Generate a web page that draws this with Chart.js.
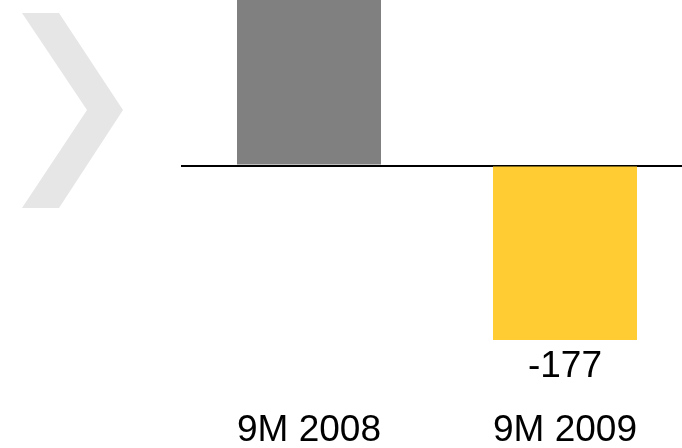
<!DOCTYPE html>
<html>
<head>
<meta charset="utf-8">
<script src="https://cdn.jsdelivr.net/npm/chart.js@4/dist/chart.umd.min.js"></script>
<style>
  html, body { margin: 0; padding: 0; background: #fff; overflow: hidden; }
  #wrap { width: 700px; height: 448px; }
</style>
</head>
<body>
<div id="wrap"><canvas id="ebitChart"></canvas></div>
<script>
const labels = ['9M 2008', '9M 2009'];
const values = [230, -177];
const barColors = ['#808080', '#FFCC33'];

const fontFamily = '"Liberation Sans", Arial, Helvetica, sans-serif';

// light grey chevron on the left
const chevron = {
    id: 'chevron',
    beforeDraw(chart) {
        const ctx = chart.ctx;
        ctx.save();
        ctx.fillStyle = '#e6e6e6';
        ctx.beginPath();
        ctx.moveTo(22, 13);
        ctx.lineTo(59, 13);
        ctx.lineTo(123, 110);
        ctx.lineTo(59, 208);
        ctx.lineTo(22, 208);
        ctx.lineTo(87, 110);
        ctx.closePath();
        ctx.fill();
        ctx.restore();
    }
};

// value labels next to the end of each bar
const valueLabels = {
    id: 'valueLabels',
    afterDatasetsDraw(chart) {
        const ctx = chart.ctx;
        const meta = chart.getDatasetMeta(0);
        ctx.save();
        ctx.font = '37px ' + fontFamily;
        ctx.fillStyle = '#000';
        ctx.textAlign = 'center';
        ctx.textBaseline = 'middle';
        meta.data.forEach((bar, i) => {
            const v = values[i];
            const y = v < 0 ? bar.y + 27 : bar.y - 27;
            ctx.fillText(String(v), bar.x, y);
        });
        ctx.restore();
    }
};

new Chart(document.getElementById('ebitChart').getContext('2d'), {
    type: 'bar',
    data: {
        labels: labels,
        datasets: [{
            data: values,
            backgroundColor: barColors,
            borderWidth: 0,
            categoryPercentage: 1,
            barPercentage: 0.5625
        }]
    },
    options: {
        responsive: true,
        maintainAspectRatio: false,
        animation: false,
        layout: { padding: { left: 181, right: 7, top: 0, bottom: 0 } },
        plugins: {
            legend: { display: false },
            tooltip: { enabled: false }
        },
        scales: {
            x: {
                afterFit: scale => { scale.height = 48; },
                grid: { display: false, drawTicks: false },
                border: { display: false },
                ticks: {
                    color: '#000',
                    padding: 12,
                    maxRotation: 0,
                    font: { family: fontFamily, size: 37, lineHeight: 1 }
                }
            },
            y: {
                min: -238,
                max: 168,
                z: 1,
                border: { display: false },
                ticks: { display: false },
                grid: {
                    drawTicks: false,
                    lineWidth: 2,
                    color: c => c.tick && c.tick.value === 0 ? '#000' : 'rgba(0,0,0,0)'
                }
            }
        }
    },
    plugins: [chevron, valueLabels]
});
</script>
</body>
</html>
